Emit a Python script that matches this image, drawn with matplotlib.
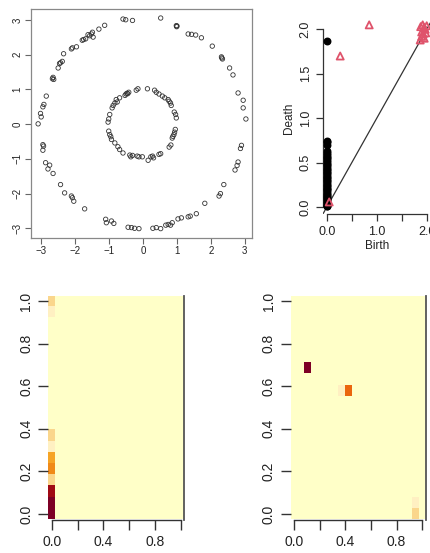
import numpy as np
import matplotlib
matplotlib.use("Agg")
import matplotlib.pyplot as plt
from matplotlib.colors import ListedColormap

plt.rcParams['font.family'] = ['Liberation Sans', 'DejaVu Sans']

# ---------------- data: point cloud (two circles) ----------------
outer_x = [0.52, 0.98, 0.99, 1.0, 1.33, 1.43, 1.55, 1.72, 2.04, 2.31, 2.34, 2.32, 2.55, 2.65,
           2.80, 2.95, 2.95, 3.03, 2.90, 2.87, 2.80, 2.77, 2.71, 2.38, 2.28, 2.24, 1.82,
           1.57, 1.39, 1.33, 1.13, 1.03, 0.86, 0.81, 0.74, 0.67, 0.52, 0.39, 0.29,
           -0.12, -0.25, -0.34, -0.44, -0.86, -0.93, -1.08, -1.10, -1.72, -2.04, -2.08,
           -2.11, -2.31, -2.43, -2.65, -2.80, -2.75, -2.87, -2.95, -2.93, -2.95, -3.09,
           -3.00, -3.02, -2.95, -2.92, -2.85, -2.67, -2.65, -2.63, -2.50, -2.43, -2.38,
           -2.46, -2.34, -2.11, -2.08, -1.96, -1.79, -1.75, -1.69, -1.62, -1.57, -1.52,
           -1.49, -1.47, -1.30, -1.13, -0.59, -0.51, -0.31]
outer_y = [3.06, 2.84, 2.81, 2.83, 2.60, 2.59, 2.57, 2.49, 2.25, 1.94, 1.88, 1.91, 1.62, 1.42,
           0.90, 0.69, 0.47, 0.15, -0.61, -0.70, -1.09, -1.19, -1.32, -1.74, -2.00, -2.07, -2.28,
           -2.58, -2.65, -2.67, -2.70, -2.73, -2.84, -2.91, -2.89, -2.91, -3.01, -2.98, -3.00,
           -3.01, -3.00, -2.98, -2.97, -2.86, -2.79, -2.84, -2.74, -2.44, -2.22, -2.12,
           -2.07, -1.98, -1.74, -1.42, -1.29, -1.18, -1.11, -0.75, -0.63, -0.59, 0.01,
           0.21, 0.31, 0.50, 0.57, 0.81, 1.31, 1.35, 1.29, 1.62, 1.77, 1.81,
           1.75, 2.03, 2.17, 2.20, 2.23, 2.42, 2.44, 2.46, 2.58, 2.55, 2.60,
           2.65, 2.51, 2.74, 2.85, 3.03, 3.01, 2.99]
inner_x = [0.13, -0.20, -0.15, -0.45, -0.50, -0.53, -0.47, -0.69, -0.79, -0.76, -0.83,
           -0.88, -0.91, -0.98, -1.01, -1.03, -1.01, -0.98, -0.95, -0.93, -0.83, -0.74,
           -0.69, -0.59, -0.39, -0.36, -0.31, -0.17, -0.12, -0.02, 0.15, 0.23, 0.28, 0.31,
           0.47, 0.52, 0.77, 0.82, 0.88, 0.91, 0.93, 0.95, 0.98, 0.96, 0.92, 0.83, 0.81,
           0.77, 0.74, 0.64, 0.57, 0.47, 0.39, 0.34, -0.42, 0.86]
inner_y = [1.02, 0.98, 1.02, 0.88, 0.87, 0.83, 0.89, 0.76, 0.71, 0.64, 0.61,
           0.54, 0.47, 0.28, 0.15, 0.06, -0.20, -0.30, -0.36, -0.44, -0.54, -0.65,
           -0.73, -0.83, -0.89, -0.94, -0.90, -0.92, -0.94, -0.94, -1.04, -0.94, -0.92, -0.97,
           -0.87, -0.85, -0.66, -0.60, -0.35, -0.30, -0.23, -0.15, 0.18, 0.28, 0.35, 0.54, 0.61,
           0.66, 0.71, 0.76, 0.81, 0.87, 0.92, 0.98, 0.92, -0.40]

# ---------------- data: persistence diagram ----------------
dim0_birth_value = 0.0
dim0_death = [0.01, 0.02, 0.03, 0.05, 0.06, 0.08, 0.09, 0.11, 0.12, 0.14, 0.15, 0.17, 0.19,
              0.20, 0.22, 0.24, 0.25, 0.27, 0.29, 0.31, 0.33, 0.34, 0.36, 0.38, 0.40, 0.42,
              0.43, 0.45, 0.47, 0.49, 0.51, 0.53, 0.55, 0.57, 0.59, 0.61, 0.63, 0.70, 0.73,
              0.74, 1.87]
dim1_birth = [0.05, 0.27, 0.85, 1.88, 1.92, 1.95, 1.90, 1.93, 1.97, 1.90, 1.95, 2.00, 1.87, 1.98]
dim1_death = [0.06, 1.70, 2.05, 2.03, 2.05, 2.02, 1.97, 1.95, 2.00, 1.92, 1.90, 2.04, 1.88, 1.96]

# ---------------- data: persistence images (20 x 20 grid, colour level 0..11) ----------------
n_grid = 20
img1_col = [0, 0, 0, 0, 0, 0, 0, 0, 0, 0]
img1_row = [0, 1, 2, 3, 4, 5, 6, 7, 18, 19]
img1_lvl = [11, 11, 9, 2, 5, 4, 1, 2, 1, 2]
img2_col = [2, 8, 7, 18, 18]
img2_row = [13, 11, 11, 0, 1]
img2_lvl = [11, 6, 1, 2, 1]

palette = ['#FFFFC8', '#FFF0C2', '#FAD68C', '#F8C36E', '#F6A425', '#F08A18',
           '#EA660E', '#D2461A', '#B51F1A', '#A00A14', '#8C0420', '#7D0025']

# ---------------- figure ----------------
W, H = 431, 553
fig = plt.figure(figsize=(W / 100, H / 100), dpi=100)

def rect(l, t, r, b):
    return [l / W, 1 - b / H, (r - l) / W, (b - t) / H]

txt = '#222222'

# Panel 1: point cloud
ax1 = fig.add_axes(rect(31, 9, 252, 238))
ax1.scatter(outer_x + inner_x, outer_y + inner_y, s=10, facecolors='none',
            edgecolors='#333333', linewidths=0.6)
ax1.set_xlim(-3.30, 3.21)
ax1.set_ylim(-3.28, 3.32)
ax1.set_xticks(range(-3, 4))
ax1.set_yticks(range(-3, 4))
for s in ax1.spines.values():
    s.set_color('#888888')
    s.set_linewidth(0.9)
ax1.tick_params(length=4, width=0.8, color='#666666', labelsize=7, labelcolor=txt, pad=2)
for lab in ax1.get_yticklabels():
    lab.set_rotation(90)
    lab.set_va('center')

# Panel 2: persistence diagram
ax2 = fig.add_axes(rect(322.7, 22.2, 430.7, 214.4))
ax2.set_xlim(-0.08, 2.08)
ax2.set_ylim(-0.08, 2.08)
ax2.plot([-0.08, 2.08], [-0.08, 2.08], color='#333333', lw=0.9, clip_on=True)
ax2.scatter([dim0_birth_value] * len(dim0_death), dim0_death, s=22, color='black', zorder=3)
ax2.scatter(dim1_birth, dim1_death, marker='^', s=26, facecolors='none',
            edgecolors='#DF536B', linewidths=1.3, zorder=4, clip_on=False)
for k in ['top', 'right']:
    ax2.spines[k].set_visible(False)
ax2.spines['left'].set_bounds(0, 2)
ax2.spines['bottom'].set_bounds(0, 2)
for k in ['left', 'bottom']:
    ax2.spines[k].set_color('#333333')
    ax2.spines[k].set_linewidth(0.9)
ticks2 = [0.0, 0.5, 1.0, 1.5, 2.0]
ax2.set_xticks(ticks2)
ax2.set_xticklabels(['0.0', '', '1.0', '', '2.0'])
ax2.set_yticks(ticks2)
ax2.set_yticklabels(['0.0', '0.5', '1.0', '1.5', '2.0'])
ax2.tick_params(length=5, width=0.9, color='#333333', labelsize=9, labelcolor=txt, pad=3)
for lab in ax2.get_yticklabels():
    lab.set_rotation(90)
    lab.set_va('center')
ax2.set_xlabel('Birth', fontsize=8.5, color=txt, labelpad=2)
ax2.set_ylabel('Death', fontsize=8.5, color=txt, labelpad=3)

# Panels 3 & 4: persistence images
cmap = ListedColormap(palette)
half = 0.5 / (n_grid - 1)
ext = [-half, 1 + half, -half, 1 + half]

def draw_image(ax, cols, rows, lvls):
    grid = np.zeros((n_grid, n_grid))
    for c, r, v in zip(cols, rows, lvls):
        grid[r, c] = v
    ax.imshow(grid, cmap=cmap, vmin=-0.5, vmax=11.5, origin='lower', extent=ext,
              aspect='auto', interpolation='nearest')
    ax.set_xlim(ext[0], ext[1])
    ax.set_ylim(ext[2], ext[3])
    ax.spines['top'].set_visible(False)
    ax.spines['left'].set_visible(False)
    ax.spines['right'].set_color('#555555')
    ax.spines['right'].set_linewidth(1.3)
    ax.spines['bottom'].set_bounds(0, 1)
    ax.spines['bottom'].set_color('#333333')
    ax.spines['bottom'].set_linewidth(1.0)
    tk = [0.0, 0.2, 0.4, 0.6, 0.8, 1.0]
    ax.set_xticks(tk)
    ax.set_xticklabels(['0.0', '', '0.4', '', '0.8', ''])
    ax.set_yticks(tk)
    ax.set_yticklabels(['0.0', '0.2', '0.4', '0.6', '0.8', '1.0'])
    ax.tick_params(axis='x', length=7, width=1.0, color='#333333', labelsize=10,
                   labelcolor=txt, pad=4)
    ax.tick_params(axis='y', length=7, width=1.0, color='#333333', labelsize=10,
                   labelcolor=txt, pad=4)
    for lab in ax.get_yticklabels():
        lab.set_rotation(90)
        lab.set_va('center')

ax3 = fig.add_axes(rect(48.5, 295.5, 184.2, 519.5))
draw_image(ax3, img1_col, img1_row, img1_lvl)
ax4 = fig.add_axes(rect(290.8, 295.5, 425.5, 519.5))
draw_image(ax4, img2_col, img2_row, img2_lvl)

fig.savefig('out.png', dpi=100)
